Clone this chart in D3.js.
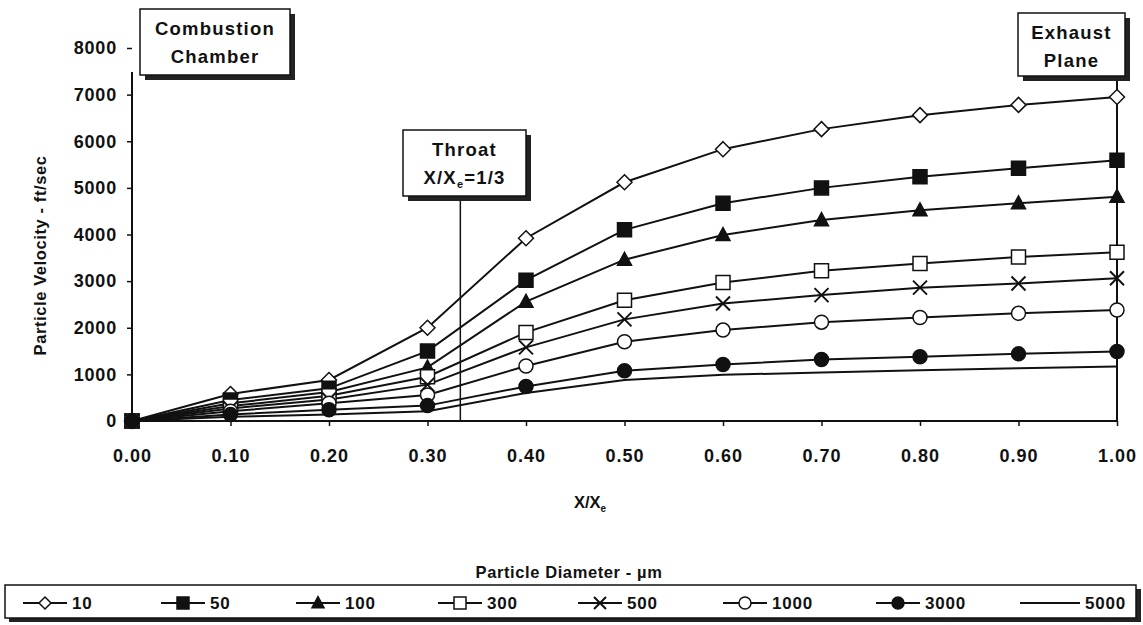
<!DOCTYPE html>
<html>
<head>
<meta charset="utf-8">
<script src="https://cdn.jsdelivr.net/npm/d3@7/dist/d3.min.js"></script>
<style>
  html, body { margin: 0; padding: 0; background: #fff; }
  svg { display: block; font-family: "Liberation Sans", Arial, sans-serif; font-weight: bold; }
</style>
</head>
<body>
<svg id="chart" width="1143" height="625"></svg>
<script>
// Axial position along the nozzle, X/Xe
const positions = [0, 0.1, 0.2, 0.3, 0.4, 0.5, 0.6, 0.7, 0.8, 0.9, 1.0];

// Particle diameters (µm), one series each
const diameters = ["10", "50", "100", "300", "500", "1000", "3000", "5000"];

// Particle velocity (ft/sec) per diameter
const vel10   = [0, 580, 880, 2000, 3920, 5120, 5830, 6260, 6560, 6780, 6950];
const vel50   = [0, 450, 700, 1500, 3020, 4100, 4670, 5000, 5240, 5420, 5590];
const vel100  = [0, 380, 620, 1150, 2560, 3460, 3990, 4310, 4520, 4670, 4810];
const vel300  = [0, 320, 540, 950, 1900, 2590, 2970, 3220, 3380, 3520, 3620];
const vel500  = [0, 270, 460, 780, 1580, 2180, 2520, 2700, 2860, 2950, 3060];
const vel1000 = [0, 210, 380, 560, 1180, 1700, 1950, 2120, 2220, 2310, 2380];
const vel3000 = [0, 140, 240, 330, 740, 1080, 1210, 1320, 1380, 1440, 1490];
const vel5000 = [0, 90, 140, 210, 600, 880, 990, 1040, 1090, 1130, 1170];

const yTicks = [0, 1000, 2000, 3000, 4000, 5000, 6000, 7000, 8000];
const xTicks = [0, 0.1, 0.2, 0.3, 0.4, 0.5, 0.6, 0.7, 0.8, 0.9, 1.0];

const seriesValues = [vel10, vel50, vel100, vel300, vel500, vel1000, vel3000, vel5000];
// marker style per series: shape and fill
const markerShapes = ["diamond", "square", "triangle", "square", "times", "circle", "circle", "none"];
const markerFills  = ["#fff", "#111", "#111", "#fff", "none", "#fff", "#111", "none"];

const throatPos = 1 / 3;

const svg = d3.select("#chart");
const x = d3.scaleLinear().domain([0, 1]).range([132, 1117]);
const y = d3.scaleLinear().domain([0, 8000]).range([421, 48]);

const ink = "#111";
const fontFam = "Liberation Sans, Arial, sans-serif";

function markerPath(shape, s) {
  const h = s / 2;
  if (shape === "diamond") return `M0,${-h}L${h},0L0,${h}L${-h},0Z`;
  if (shape === "square") return `M${-h},${-h}H${h}V${h}H${-h}Z`;
  if (shape === "triangle") return `M0,${-h * 1.05}L${h},${h * 0.8}L${-h},${h * 0.8}Z`;
  if (shape === "times") return `M${-h},${-h}L${h},${h}M${h},${-h}L${-h},${h}`;
  if (shape === "circle") return d3.arc()({innerRadius: 0, outerRadius: h, startAngle: 0, endAngle: 2 * Math.PI});
  return "";
}

// Y axis
const yAxis = svg.append("g")
  .attr("transform", `translate(${x(0)},0)`)
  .call(d3.axisLeft(y).tickValues(yTicks).tickSize(5).tickPadding(10).tickFormat(d3.format("d")));
yAxis.select(".domain").remove();
yAxis.selectAll("line").attr("stroke", ink).attr("stroke-width", 1.5);
yAxis.selectAll("text").attr("font-size", 18).attr("font-weight", "bold").attr("fill", ink)
  .attr("letter-spacing", 0.8).attr("font-family", fontFam);
svg.append("line").attr("x1", x(0)).attr("x2", x(0)).attr("y1", 72).attr("y2", y(0))
  .attr("stroke", ink).attr("stroke-width", 2);

// X axis
const xAxis = svg.append("g")
  .attr("transform", `translate(0,${y(0)})`)
  .call(d3.axisBottom(x).tickValues(xTicks).tickSize(5).tickPadding(23).tickFormat(d3.format(".2f")));
xAxis.select(".domain").remove();
xAxis.selectAll("line").attr("stroke", ink).attr("stroke-width", 1.5);
xAxis.selectAll("text").attr("font-size", 18).attr("font-weight", "bold").attr("fill", ink)
  .attr("letter-spacing", 1).attr("font-family", fontFam);
svg.append("line").attr("x1", x(0)).attr("x2", x(1)).attr("y1", y(0)).attr("y2", y(0))
  .attr("stroke", ink).attr("stroke-width", 2);

// Exhaust plane vertical line
svg.append("line").attr("x1", x(1)).attr("x2", x(1)).attr("y1", 76).attr("y2", y(0))
  .attr("stroke", ink).attr("stroke-width", 2);

// Throat line
svg.append("line").attr("x1", x(throatPos)).attr("x2", x(throatPos)).attr("y1", 196).attr("y2", y(0))
  .attr("stroke", ink).attr("stroke-width", 1.5);

// Series lines
const line = d3.line().x((d, i) => x(positions[i])).y(d => y(d));
seriesValues.forEach((vals) => {
  svg.append("path").datum(vals).attr("d", line)
    .attr("fill", "none").attr("stroke", ink).attr("stroke-width", 2);
});

// Markers
seriesValues.forEach((vals, k) => {
  const shape = markerShapes[k];
  if (shape === "none") return;
  const size = shape === "diamond" ? 15 : 14;
  svg.append("g").selectAll("path").data(vals).join("path")
    .attr("transform", (d, i) => `translate(${x(positions[i])},${y(d)})`)
    .attr("d", markerPath(shape, size))
    .attr("fill", markerFills[k])
    .attr("stroke", ink)
    .attr("stroke-width", shape === "times" ? 2 : 1.5);
});

// Annotation boxes with drop shadow
function noteBox(x0, y0, w, h, lines) {
  const g = svg.append("g");
  g.append("rect").attr("x", x0 + 5).attr("y", y0 + 5).attr("width", w).attr("height", h).attr("fill", "#222");
  g.append("rect").attr("x", x0).attr("y", y0).attr("width", w).attr("height", h)
    .attr("fill", "#fff").attr("stroke", ink).attr("stroke-width", 1.5);
  lines.forEach((fn, i) => {
    const t = g.append("text").attr("x", x0 + w / 2).attr("y", y0 + 26 + i * 28)
      .attr("text-anchor", "middle").attr("font-size", 18.5).attr("letter-spacing", 1.2).attr("fill", ink);
    fn(t);
  });
}

noteBox(140, 9, 150, 66, [
  t => t.text("Combustion"),
  t => t.text("Chamber")
]);
noteBox(1018, 13, 107, 63, [
  t => t.text("Exhaust"),
  t => t.text("Plane")
]);
noteBox(403, 130, 123, 66, [
  t => t.text("Throat"),
  t => { t.append("tspan").text("X/X"); t.append("tspan").attr("font-size", 11).attr("dy", 4).text("e");
         t.append("tspan").attr("dy", -4).text("=1/3"); }
]);

// Axis titles
svg.append("text")
  .attr("transform", `translate(46,${y(3550)}) rotate(-90)`)
  .attr("text-anchor", "middle").attr("font-size", 16.5).attr("letter-spacing", 0.6).attr("fill", ink)
  .text("Particle Velocity - ft/sec");

const xt = svg.append("text").attr("x", 590).attr("y", 508).attr("text-anchor", "middle")
  .attr("font-size", 16.5).attr("fill", ink);
xt.append("tspan").text("X/X");
xt.append("tspan").attr("font-size", 10).attr("dy", 4).text("e");

svg.append("text").attr("x", 569).attr("y", 578).attr("text-anchor", "middle")
  .attr("font-size", 16.5).attr("letter-spacing", 0.6).attr("fill", ink).text("Particle Diameter - µm");

// Legend
const lg = svg.append("g");
lg.append("rect").attr("x", 9).attr("y", 589).attr("width", 1132).attr("height", 33).attr("fill", "#222");
lg.append("rect").attr("x", 5).attr("y", 585).attr("width", 1131).attr("height", 33)
  .attr("fill", "#fff").attr("stroke", ink).attr("stroke-width", 1.5);

const legendX = [45, 183, 318, 460, 600, 745, 898, 1050];
const legendY = 603;
diameters.forEach((name, k) => {
  const cx = legendX[k];
  const half = k === 7 ? 30 : 22;
  lg.append("line").attr("x1", cx - half).attr("x2", cx + half).attr("y1", legendY).attr("y2", legendY)
    .attr("stroke", ink).attr("stroke-width", 2);
  if (markerShapes[k] !== "none") {
    lg.append("path").attr("transform", `translate(${cx},${legendY})`)
      .attr("d", markerPath(markerShapes[k], 12))
      .attr("fill", markerFills[k]).attr("stroke", ink)
      .attr("stroke-width", markerShapes[k] === "times" ? 2 : 1.5);
  }
  lg.append("text").attr("x", cx + half + 5).attr("y", legendY + 6)
    .attr("font-size", 17).attr("letter-spacing", 0.8).attr("fill", ink).text(name);
});
</script>
</body>
</html>
